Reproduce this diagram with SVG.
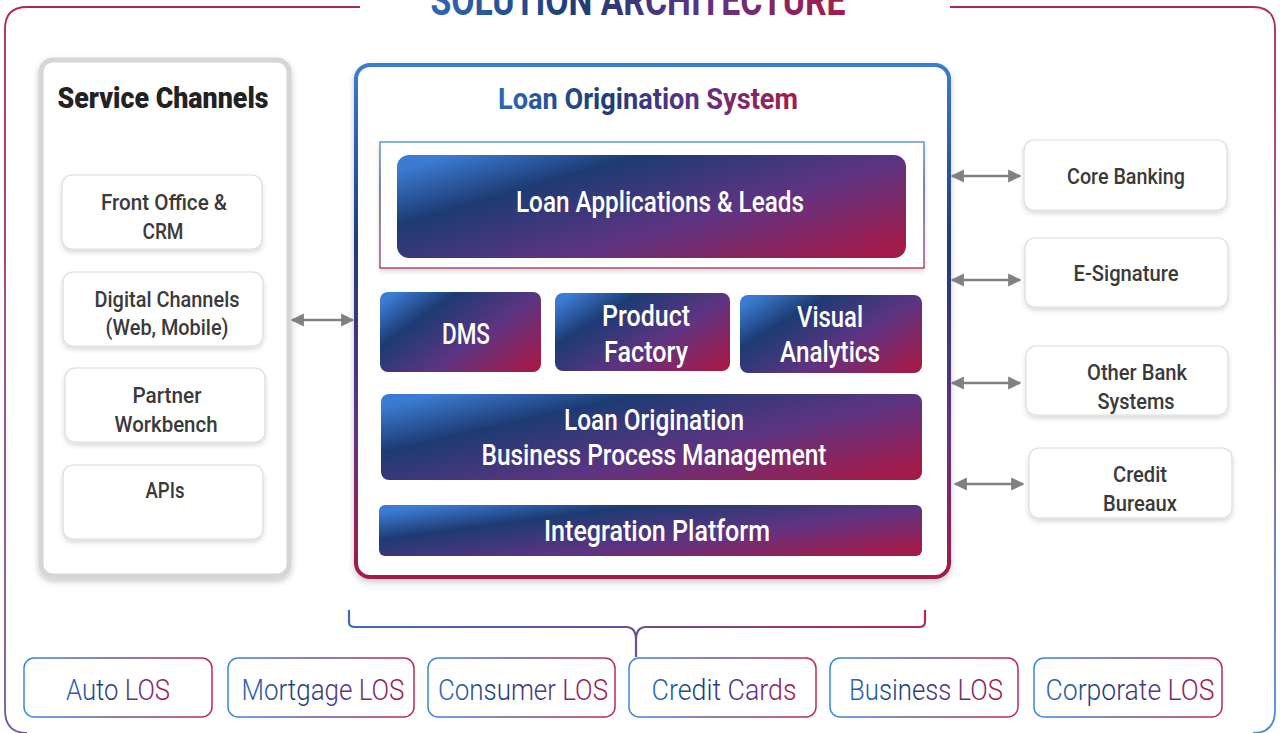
<svg xmlns="http://www.w3.org/2000/svg" width="1280" height="733" viewBox="0 0 1280 733">
<defs>
<linearGradient id="fillG" x1="0" y1="0.15" x2="1" y2="0.85">
<stop offset="0" stop-color="#3b7bd2"/>
<stop offset="0.25" stop-color="#1d3b73"/>
<stop offset="0.62" stop-color="#5e3482"/>
<stop offset="1" stop-color="#a31b4b"/>
</linearGradient>
<linearGradient id="textG" x1="0" y1="0" x2="1" y2="0">
<stop offset="0" stop-color="#2f67b8"/>
<stop offset="0.35" stop-color="#1f3c74"/>
<stop offset="0.65" stop-color="#5c3383"/>
<stop offset="1" stop-color="#a61c4a"/>
</linearGradient>
<linearGradient id="strokeH" x1="0" y1="0" x2="1" y2="0">
<stop offset="0" stop-color="#3a8ad6"/>
<stop offset="0.5" stop-color="#6a4f9a"/>
<stop offset="1" stop-color="#c0294f"/>
</linearGradient>
<linearGradient id="strokeV" x1="0" y1="0" x2="0" y2="1">
<stop offset="0" stop-color="#3b7bd2"/>
<stop offset="0.35" stop-color="#1f3c74"/>
<stop offset="0.7" stop-color="#5e3482"/>
<stop offset="1" stop-color="#a31b4b"/>
</linearGradient>
<linearGradient id="frameL" gradientUnits="userSpaceOnUse" x1="0" y1="0" x2="0" y2="733">
<stop offset="0" stop-color="#b3235a"/>
<stop offset="1" stop-color="#7558a3"/>
</linearGradient>
<linearGradient id="frameR" gradientUnits="userSpaceOnUse" x1="0" y1="0" x2="0" y2="733">
<stop offset="0" stop-color="#b3235a"/>
<stop offset="1" stop-color="#4a8ed4"/>
</linearGradient>
<linearGradient id="bracketG" gradientUnits="userSpaceOnUse" x1="349" y1="0" x2="925" y2="0">
<stop offset="0" stop-color="#3c6db8"/>
<stop offset="0.5" stop-color="#6a4f94"/>
<stop offset="1" stop-color="#b7274e"/>
</linearGradient>
<filter id="sh" x="-10%" y="-10%" width="120%" height="130%">
<feDropShadow dx="0" dy="3" stdDeviation="3" flood-color="#000" flood-opacity="0.22"/>
</filter>
<filter id="shs" x="-10%" y="-10%" width="120%" height="130%">
<feDropShadow dx="0" dy="3" stdDeviation="2.5" flood-color="#000" flood-opacity="0.15"/>
</filter>
<marker id="ah" viewBox="0 0 10 10" refX="9" refY="5" markerWidth="5.5" markerHeight="5.5" orient="auto-start-reverse" markerUnits="strokeWidth">
<path d="M0,0 L10,5 L0,10 Z" fill="#808080"/>
</marker>
<style>
text{font-family:"Roboto","Liberation Sans",sans-serif;text-anchor:middle;dominant-baseline:central;font-weight:500}
.lb{fill:#fff;stroke:#dcdcdc;stroke-width:1.2;filter:url(#shs)}
.lt{fill:#3a3a3a;font-size:22px}
.gb{fill:url(#fillG)}
.wt{fill:#fff;font-size:29px}
.bb{fill:#fff;stroke:url(#strokeH);stroke-width:1.5}
.bt{fill:url(#textG);font-size:30px;font-weight:300}
.conn{stroke:#808080;stroke-width:2.4;fill:none;marker-start:url(#ah);marker-end:url(#ah)}
</style>
</defs>
<rect width="1280" height="733" fill="#fff"/>

<g id="frame">
<path d="M360,7 L27,7 Q5,7 5,29 L5,710 Q5,733 27,733" fill="none" stroke="url(#frameL)" stroke-width="1.8"/>
<path d="M950,7 L1253,7 Q1275,7 1275,29 L1275,710 Q1275,733 1253,733" fill="none" stroke="url(#frameR)" stroke-width="1.8"/>
<text x="638" y="0" textLength="415" lengthAdjust="spacingAndGlyphs" style="font-size:42px;font-weight:bold" fill="url(#textG)">SOLUTION ARCHITECTURE</text>
</g>

<g id="service-channels">
<rect x="41" y="60" width="248" height="516" rx="12" fill="#fff" stroke="#d6d6d6" stroke-width="5" filter="url(#sh)"/>
<text x="163" y="97" textLength="211" lengthAdjust="spacingAndGlyphs" style="font-size:30px;font-weight:900;fill:#222">Service Channels</text>
</g>
<g id="front-office"><rect class="lb" x="62" y="175" width="200" height="74" rx="10"/><text class="lt" x="164" y="202" textLength="126" lengthAdjust="spacingAndGlyphs">Front Office &amp;</text><text class="lt" x="163" y="231" textLength="41" lengthAdjust="spacingAndGlyphs">CRM</text></g>
<g id="digital-channels"><rect class="lb" x="63" y="272" width="200" height="74" rx="10"/><text class="lt" x="167" y="299" textLength="145" lengthAdjust="spacingAndGlyphs">Digital Channels</text><text class="lt" x="167" y="327" textLength="123" lengthAdjust="spacingAndGlyphs">(Web, Mobile)</text></g>
<g id="partner-workbench"><rect class="lb" x="65" y="368" width="200" height="74" rx="10"/><text class="lt" x="167" y="395" textLength="69" lengthAdjust="spacingAndGlyphs">Partner</text><text class="lt" x="166" y="424" textLength="103" lengthAdjust="spacingAndGlyphs">Workbench</text></g>
<g id="apis"><rect class="lb" x="63" y="465" width="200" height="74" rx="10"/><text class="lt" x="165" y="490" textLength="39" lengthAdjust="spacingAndGlyphs">APIs</text></g>

<g id="los">
<rect x="356" y="65" width="593" height="512" rx="14" fill="#fff" stroke="url(#strokeV)" stroke-width="4" filter="url(#sh)"/>
<text x="648" y="98" textLength="300" lengthAdjust="spacingAndGlyphs" style="font-size:30px;font-weight:bold" fill="url(#textG)">Loan Origination System</text>
</g>
<g id="loan-applications">
<rect x="380" y="142" width="544" height="126" fill="#fff" stroke="url(#strokeV)" stroke-width="1.2" filter="url(#shs)"/>
<rect class="gb" x="397" y="155" width="509" height="103" rx="12"/>
<text class="wt" x="660" y="202" textLength="288" lengthAdjust="spacingAndGlyphs">Loan Applications &amp; Leads</text>
</g>
<g id="dms"><rect class="gb" x="380" y="292" width="161" height="80" rx="8"/><text class="wt" x="466" y="333" textLength="48" lengthAdjust="spacingAndGlyphs" style="font-size:30px">DMS</text></g>
<g id="product-factory"><rect class="gb" x="555" y="293" width="175" height="78" rx="8"/><text class="wt" x="646" y="315" textLength="88" lengthAdjust="spacingAndGlyphs" style="font-size:30px">Product</text><text class="wt" x="646" y="351" textLength="84" lengthAdjust="spacingAndGlyphs" style="font-size:30px">Factory</text></g>
<g id="visual-analytics"><rect class="gb" x="740" y="295" width="182" height="78" rx="8"/><text class="wt" x="830" y="316" textLength="66" lengthAdjust="spacingAndGlyphs" style="font-size:30px">Visual</text><text class="wt" x="830" y="351" textLength="100" lengthAdjust="spacingAndGlyphs" style="font-size:30px">Analytics</text></g>
<g id="bpm"><rect class="gb" x="381" y="394" width="541" height="86" rx="8"/><text class="wt" x="654" y="420" textLength="180" lengthAdjust="spacingAndGlyphs">Loan Origination</text><text class="wt" x="654" y="455" textLength="345" lengthAdjust="spacingAndGlyphs">Business Process Management</text></g>
<g id="integration-platform"><rect class="gb" x="379" y="505" width="543" height="51" rx="6"/><text class="wt" x="657" y="531" textLength="226" lengthAdjust="spacingAndGlyphs">Integration Platform</text></g>

<g id="core-banking"><rect class="lb" x="1024" y="140" width="203" height="70" rx="10"/><text class="lt" x="1126" y="176" textLength="118" lengthAdjust="spacingAndGlyphs">Core Banking</text></g>
<g id="e-signature"><rect class="lb" x="1025" y="238" width="203" height="69" rx="10"/><text class="lt" x="1126" y="273" textLength="105" lengthAdjust="spacingAndGlyphs">E-Signature</text></g>
<g id="other-bank"><rect class="lb" x="1026" y="346" width="202" height="69" rx="10"/><text class="lt" x="1137" y="372" textLength="100" lengthAdjust="spacingAndGlyphs">Other Bank</text><text class="lt" x="1136" y="401" textLength="77" lengthAdjust="spacingAndGlyphs">Systems</text></g>
<g id="credit-bureaux"><rect class="lb" x="1029" y="448" width="203" height="70" rx="10"/><text class="lt" x="1140" y="474" textLength="54" lengthAdjust="spacingAndGlyphs">Credit</text><text class="lt" x="1140" y="503" textLength="74" lengthAdjust="spacingAndGlyphs">Bureaux</text></g>

<g id="connectors">
<line class="conn" x1="292" y1="320" x2="353" y2="320"/>
<line class="conn" x1="952" y1="176" x2="1020" y2="176"/>
<line class="conn" x1="952" y1="280" x2="1020" y2="280"/>
<line class="conn" x1="952" y1="383" x2="1020" y2="383"/>
<line class="conn" x1="955" y1="484" x2="1023" y2="484"/>
<path d="M349,610 L349,622 Q349,627 355,627 L626,627 Q636,627 636,640 L636,657 M636,640 Q636,627 646,627 L919,627 Q925,627 925,622 L925,610" fill="none" stroke="url(#bracketG)" stroke-width="2.2"/>
</g>

<g id="auto-los"><rect class="bb" x="24" y="658" width="188" height="59" rx="10"/><text class="bt" x="118" y="689" textLength="104" lengthAdjust="spacingAndGlyphs">Auto LOS</text></g>
<g id="mortgage-los"><rect class="bb" x="228" y="658" width="186" height="59" rx="10"/><text class="bt" x="323" y="689" textLength="163" lengthAdjust="spacingAndGlyphs">Mortgage LOS</text></g>
<g id="consumer-los"><rect class="bb" x="428" y="658" width="187" height="59" rx="10"/><text class="bt" x="523" y="689" textLength="170" lengthAdjust="spacingAndGlyphs">Consumer LOS</text></g>
<g id="credit-cards"><rect class="bb" x="629" y="658" width="187" height="59" rx="10"/><text class="bt" x="724" y="689" textLength="145" lengthAdjust="spacingAndGlyphs">Credit Cards</text></g>
<g id="business-los"><rect class="bb" x="830" y="658" width="188" height="59" rx="10"/><text class="bt" x="926" y="689" textLength="154" lengthAdjust="spacingAndGlyphs">Business LOS</text></g>
<g id="corporate-los"><rect class="bb" x="1034" y="658" width="188" height="59" rx="10"/><text class="bt" x="1130" y="689" textLength="169" lengthAdjust="spacingAndGlyphs">Corporate LOS</text></g>
</svg>
